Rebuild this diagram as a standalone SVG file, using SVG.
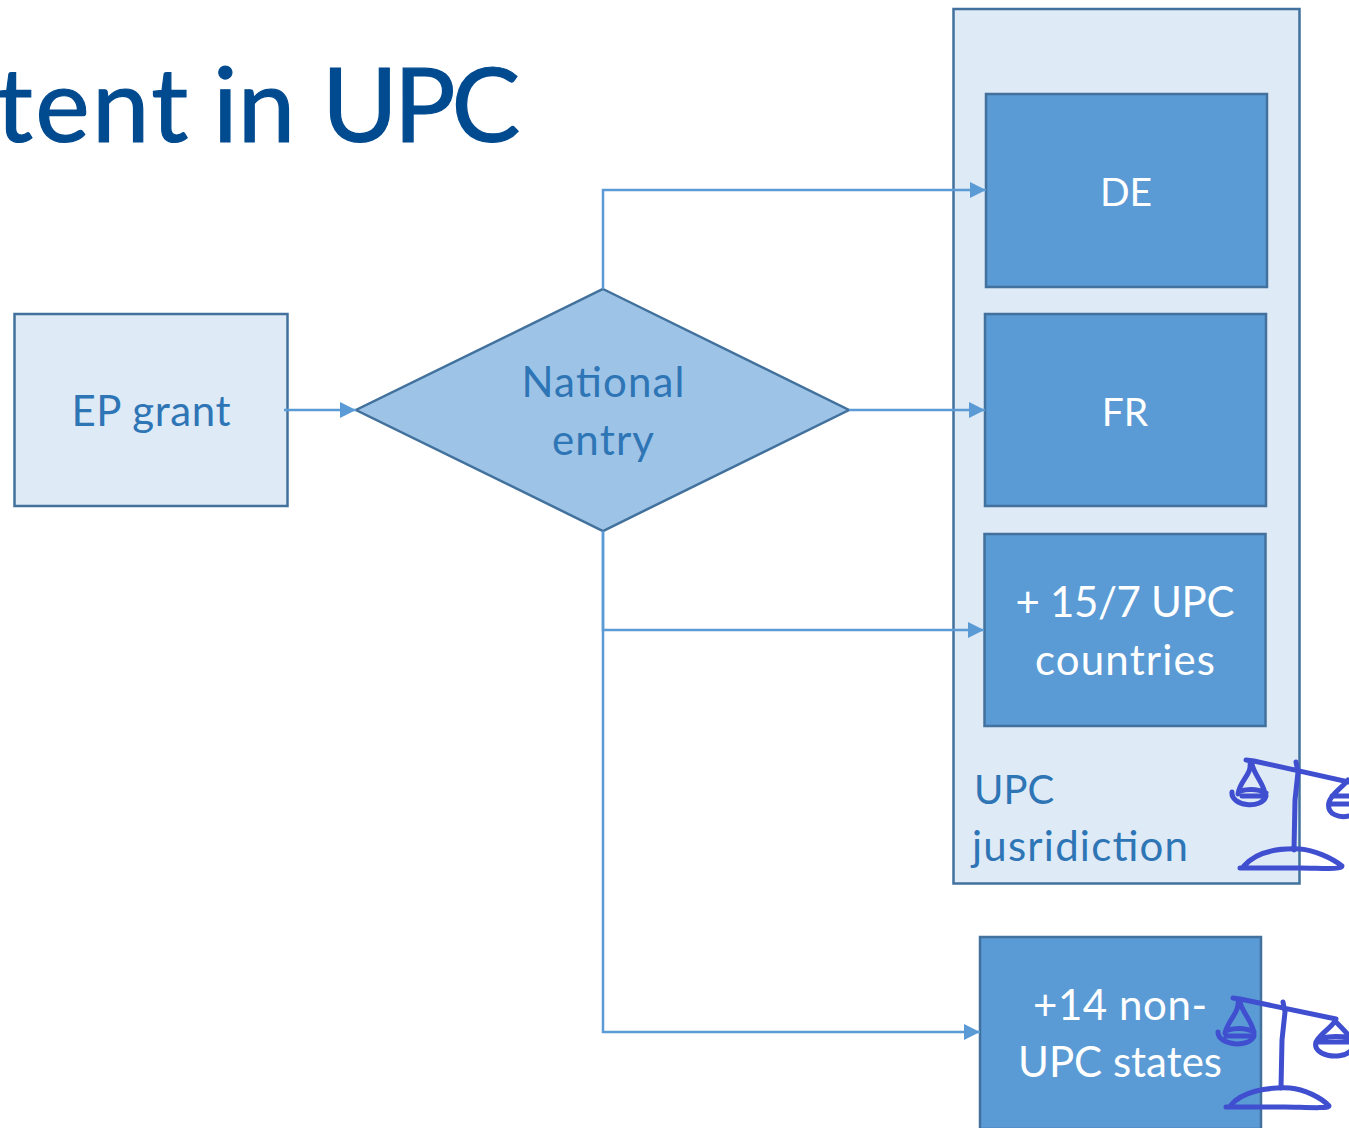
<svg xmlns="http://www.w3.org/2000/svg" width="1349" height="1128" viewBox="0 0 1349 1128">
<style>
text{font-family:Lato,"Open Sans","Liberation Sans",sans-serif;text-anchor:middle}
.title{font-size:103px;fill:#004a8f;stroke:#004a8f;stroke-width:1.2;text-anchor:start}
.b{font-size:42px;fill:#2e75b6}
.w{font-size:42px;fill:#fff}
.box{fill:#5b9bd5;stroke:#41719c;stroke-width:2.5}
.light{fill:#deeaf6;stroke:#41719c;stroke-width:2.5}
.c{fill:none;stroke:#5b9bd5;stroke-width:2.5}
.s{fill:none;stroke:#3f4fd0;stroke-width:5;stroke-linecap:round;stroke-linejoin:round}
</style>
<defs><marker id="a" markerUnits="userSpaceOnUse" markerWidth="16" markerHeight="16" refX="16" refY="8" orient="auto"><path d="M0 0L16 8L0 16Z" fill="#5b9bd5"/></marker></defs>
<rect width="1349" height="1128" fill="#fff"/>
<text class="title" y="142"><tspan x="-4" letter-spacing="2.500">tent</tspan> <tspan x="213">in</tspan> <tspan x="322" letter-spacing="-4">UPC</tspan></text>
<g id="upc"><rect class="light" x="953.500" y="9" width="346" height="874.500"/><text class="b" x="974" y="804" style="text-anchor:start;font-size:40px">UPC</text><text class="b" x="972" y="861" style="text-anchor:start" textLength="216">jusridiction</text></g>
<g id="ep"><rect class="light" x="14.500" y="314" width="273" height="192"/><text class="b" x="151" y="426" textLength="159">EP grant</text></g>
<g id="entry"><path d="M603 289L849 410L603 531L356 410Z" fill="#9dc3e6" stroke="#41719c" stroke-width="2.500"/><text class="b" x="603" y="397" textLength="163">National</text><text class="b" x="603" y="455" textLength="102">entry</text></g>
<g id="de"><rect class="box" x="986" y="94" width="281" height="193"/><text class="w" x="1126" y="206" style="font-size:39px">DE</text></g>
<g id="fr"><rect class="box" x="985" y="314" width="281" height="192"/><text class="w" x="1125" y="426" style="font-size:39px">FR</text></g>
<g id="upc15"><rect class="box" x="984.500" y="534" width="281" height="192"/><text class="w" x="1125" y="617" textLength="219">+ 15/7 UPC</text><text class="w" x="1125" y="675" textLength="180">countries</text></g>
<g id="non"><rect class="box" x="980" y="937" width="281" height="192"/><text class="w" x="1120" y="1020" textLength="174">+14 non-</text><text class="w" x="1120" y="1077" textLength="204">UPC states</text></g>
<g id="connectors">
<path class="c" d="M284 410H356" marker-end="url(#a)"/>
<path class="c" d="M603 289V190H986" marker-end="url(#a)"/>
<path class="c" d="M849 410H985" marker-end="url(#a)"/>
<path class="c" d="M603 531V630H984" marker-end="url(#a)"/>
<path class="c" d="M603 531V1032H980" marker-end="url(#a)"/>
</g>
<g id="scale1">
<path class="s" d="M1246 760L1254 761L1349 782M1296 762L1298 772L1295 800L1294 850"/>
<path class="s" d="M1250 762C1252 775 1240 780 1238 794M1252 764C1254 775 1265 785 1265 795M1240 791C1248 789 1258 789 1266 793M1232 792C1230 806 1262 810 1266 796M1242 796H1262"/>
<path class="s" d="M1348 780C1342 788 1332 793 1329 802C1326 815 1340 818 1349 816M1332 796H1349M1330 804H1349"/>
<path class="s" d="M1244 866C1256 852 1278 848 1300 849C1314 850 1332 858 1342 866C1342 870 1320 868 1300 868H1240"/>
</g>
<g id="scale2">
<path class="s" d="M1233 998L1240 999L1336 1019M1283 1002L1285 1012L1282 1040L1281 1088"/>
<path class="s" d="M1238 1000C1240 1012 1228 1020 1225 1033M1240 1002C1242 1012 1254 1024 1254 1034M1228 1030C1236 1028 1246 1028 1254 1032M1218 1032C1218 1046 1250 1048 1254 1036M1226 1036H1250"/>
<path class="s" d="M1335 1021C1331 1028 1320 1034 1316 1042C1312 1056 1340 1060 1349 1052M1335 1021C1340 1026 1346 1032 1349 1036M1322 1038C1330 1036 1342 1036 1349 1038M1316 1042H1349"/>
<path class="s" d="M1231 1105C1242 1092 1265 1087 1290 1088C1304 1089 1322 1098 1329 1106C1329 1109 1300 1107 1285 1107H1226"/>
</g>
</svg>
